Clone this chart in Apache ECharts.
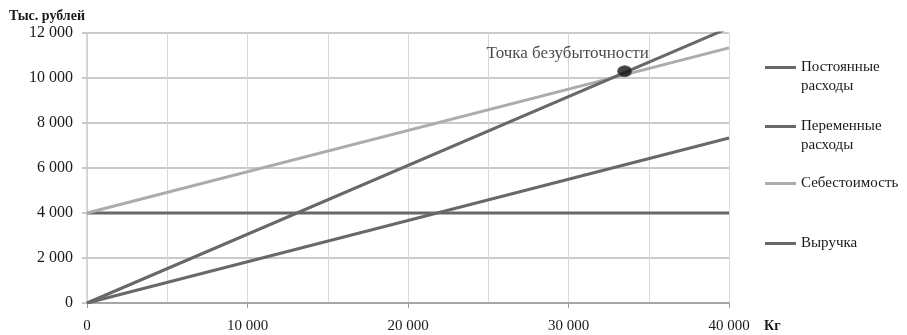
<!DOCTYPE html>
<html><head><meta charset="utf-8">
<script src="https://cdn.jsdelivr.net/npm/echarts@6/dist/echarts.min.js"></script>
<style>html,body{margin:0;padding:0;background:#fff}#c{width:907px;height:335px}</style>
</head><body><div id="c"></div>
<script>
// ---- data ----
const seriesNames = ['Постоянные расходы', 'Переменные расходы', 'Себестоимость', 'Выручка'];
const legendLines = [['Постоянные', 'расходы'], ['Переменные', 'расходы'], ['Себестоимость'], ['Выручка']];
const fixedCosts = [[0, 4000], [40000, 4000]];
const variableCosts = [[0, 0], [40000, 7330]];
const totalCost = [[0, 4000], [40000, 11340]];
const revenue = [[0, 0], [40000, 12230]];
const breakEven = [[33500, 10300]];
const breakEvenLabel = 'Точка безубыточности';
const yTitle = 'Тыс. рублей';
const xTitle = 'Кг';

// ---- styling ----
const FONT = 'Liberation Serif';
const DARK = '#686868';
const LIGHT = '#acacac';
const colors = [DARK, DARK, LIGHT, DARK];
const fmt = v => String(v).replace(/\B(?=(\d{3})+(?!\d))/g, ' ');

const legendTops = [60, 119, 176, 236];
const legends = seriesNames.map((name, i) => {
  const lines = legendLines[i];
  const two = lines.length > 1;
  return {
    orient: 'vertical', left: 765, top: legendTops[i], padding: 0,
    itemWidth: 31, itemHeight: 3, icon: 'rect', itemGap: 0,
    data: [name], selectedMode: false,
    formatter: () => lines.map(l => '{t|' + l + '}').join('\n'),
    textStyle: {
      color: '#1a1a1a', fontFamily: FONT, fontSize: 15,
      padding: two ? [19, 0, 0, 0] : 0,
      rich: { t: { fontFamily: FONT, fontSize: 15, lineHeight: 19, color: '#1a1a1a' } }
    }
  };
});

const lineSeries = (name, data, color) => ({
  name, type: 'line', data, showSymbol: false, clip: true,
  lineStyle: { color, width: 3 }, itemStyle: { color }, animation: false
});

const option = {
  animation: false,
  title: { text: yTitle, left: 4, top: 4, textStyle: { fontFamily: FONT, fontSize: 14, fontWeight: 'bold', color: '#1a1a1a' } },
  legend: legends,
  grid: { left: 87, right: 178, top: 33, bottom: 32, containLabel: false },
  xAxis: {
    type: 'value', min: 0, max: 40000, interval: 10000,
    name: xTitle, nameLocation: 'end', nameGap: 35,
    nameTextStyle: { fontFamily: FONT, fontSize: 14, fontWeight: 'bold', color: '#1a1a1a', verticalAlign: 'top', padding: [16, 0, 0, 0] },
    axisLine: { show: true, lineStyle: { color: '#9a9a9a', width: 1.5 } },
    axisTick: { show: true, length: 5, lineStyle: { color: '#9a9a9a' } },
    axisLabel: { formatter: fmt, margin: 16, fontFamily: FONT, fontSize: 15, color: '#1a1a1a' },
    splitLine: { show: true, lineStyle: { color: '#d8d8d8', width: 1 } },
    minorTick: { show: false, splitNumber: 2 },
    minorSplitLine: { show: true, lineStyle: { color: '#d8d8d8', width: 1 } }
  },
  yAxis: {
    type: 'value', min: 0, max: 12000, interval: 2000,
    axisLine: { show: true, lineStyle: { color: '#cfcfcf', width: 1.5 } },
    axisTick: { show: true, length: 5, lineStyle: { color: '#b8b8b8', width: 1.5 } },
    axisLabel: { formatter: fmt, margin: 14, fontFamily: FONT, fontSize: 16, color: '#1a1a1a' },
    splitLine: { show: true, lineStyle: { color: '#b8b8b8', width: 1.5 } }
  },
  series: [
    lineSeries(seriesNames[0], fixedCosts, colors[0]),
    lineSeries(seriesNames[1], variableCosts, colors[1]),
    lineSeries(seriesNames[2], totalCost, colors[2]),
    lineSeries(seriesNames[3], revenue, colors[3]),
    {
      name: breakEvenLabel, type: 'scatter', data: breakEven, symbol: 'circle', symbolSize: [14, 11],
      itemStyle: { color: '#111', borderColor: '#555', borderWidth: 1 }, z: 5,
      label: { show: true, formatter: breakEvenLabel, position: 'top', offset: [-57, 2],
        fontFamily: FONT, fontSize: 17, color: '#1a1a1a' }
    }
  ]
};
const chart = echarts.init(document.getElementById('c'), null, { renderer: 'canvas' });
chart.setOption(option);
</script></body></html>
